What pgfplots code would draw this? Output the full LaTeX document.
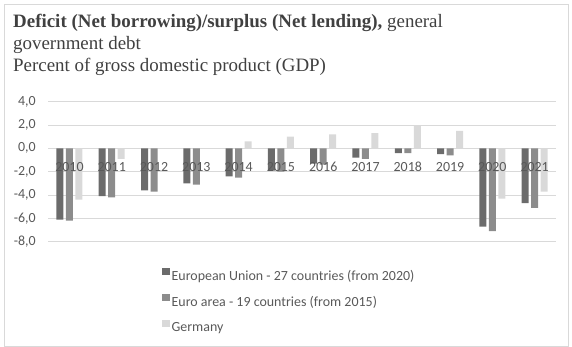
\documentclass[border=0pt]{standalone}
\usepackage{pgfplots}
\pgfplotsset{compat=1.18}
\usepackage{fontspec}
\setmainfont{Carlito}
\newfontfamily\titlefont{Liberation Serif}

\definecolor{txt}{HTML}{595959}
\definecolor{titlec}{HTML}{404040}
\definecolor{eu}{HTML}{6B6B6B}
\definecolor{ea}{HTML}{8C8C8C}
\definecolor{de}{HTML}{D9D9D9}
\definecolor{gridc}{HTML}{D9D9D9}

% tick labels drawn above the bars
\pgfplotsset{
  layers/labels on top/.define layer set={
    axis background,axis grid,axis ticks,axis lines,main,axis tick labels,axis descriptions,axis foreground
  }{/pgfplots/layers/standard},
}

% general government balance, % of GDP
\pgfplotstableread{
x eu ea de
0 -6.1 -6.2 -4.4
1 -4.1 -4.2 -0.9
2 -3.6 -3.7 0.0
3 -3.0 -3.1 0.0
4 -2.4 -2.5 0.6
5 -1.9 -2.0 1.0
6 -1.3 -1.4 1.2
7 -0.8 -0.9 1.3
8 -0.4 -0.4 1.9
9 -0.5 -0.6 1.5
10 -6.7 -7.1 -4.3
11 -4.7 -5.1 -3.7
}\balance

\begin{document}
\begin{tikzpicture}
\path (0bp,0bp) rectangle (572bp,347bp);
\draw[gridc, line width=0.8bp] (4bp,1bp) rectangle (568bp,343bp);

\begin{scope}[every node/.style={anchor=base west, inner sep=0, text=titlec,
    font=\titlefont\fontsize{19}{23}\selectfont}]
  \node at (13bp,319bp) {\textbf{Deficit (Net borrowing)/surplus (Net lending),} general};
  \node at (13bp,297bp) {government debt};
  \node at (13bp,275bp) {Percent of gross domestic product (GDP)};
\end{scope}

\begin{axis}[
  set layers=labels on top,
  at={(48.3bp,105.3bp)}, anchor=south west,
  scale only axis, width=507.5bp, height=140bp,
  ybar=2.5bp, bar width=7bp,
  xmin=-0.5, xmax=11.5, ymin=-8, ymax=4,
  ytick={-8,-6,...,4},
  xtick={0,...,11},
  xticklabels={2010,2011,2012,2013,2014,2015,2016,2017,2018,2019,2020,2021},
  xticklabel style={anchor=center, yshift=74.9bp, font=\fontsize{14}{16}\selectfont, text=txt},
  yticklabel style={font=\fontsize{14}{16}\selectfont, text=txt, xshift=-9bp,
    /pgf/number format/.cd, fixed, fixed zerofill, precision=1, use comma, assume math mode=true},
  ymajorgrids, grid style={gridc, line width=0.8bp},
  axis line style={draw=none},
  major tick length=0,
  clip=false,
  legend style={draw=none, fill=none, at={(axis description cs:0.218,-0.175)}, anchor=north west,
    font=\fontsize{14}{16}\selectfont, text=txt, row sep=10bp,
    nodes={inner xsep=2bp}},
  legend cell align=left,
  legend image code/.code={\fill (0bp,1bp) rectangle (7.5bp,8bp);},
]
\addplot[fill=eu, draw=none] table[x=x, y=eu] {\balance};
\addplot[fill=ea, draw=none] table[x=x, y=ea] {\balance};
\addplot[fill=de, draw=none] table[x=x, y=de] {\balance};
\legend{European Union - 27 countries (from 2020), Euro area - 19 countries (from 2015), Germany}
\end{axis}
\end{tikzpicture}
\end{document}
